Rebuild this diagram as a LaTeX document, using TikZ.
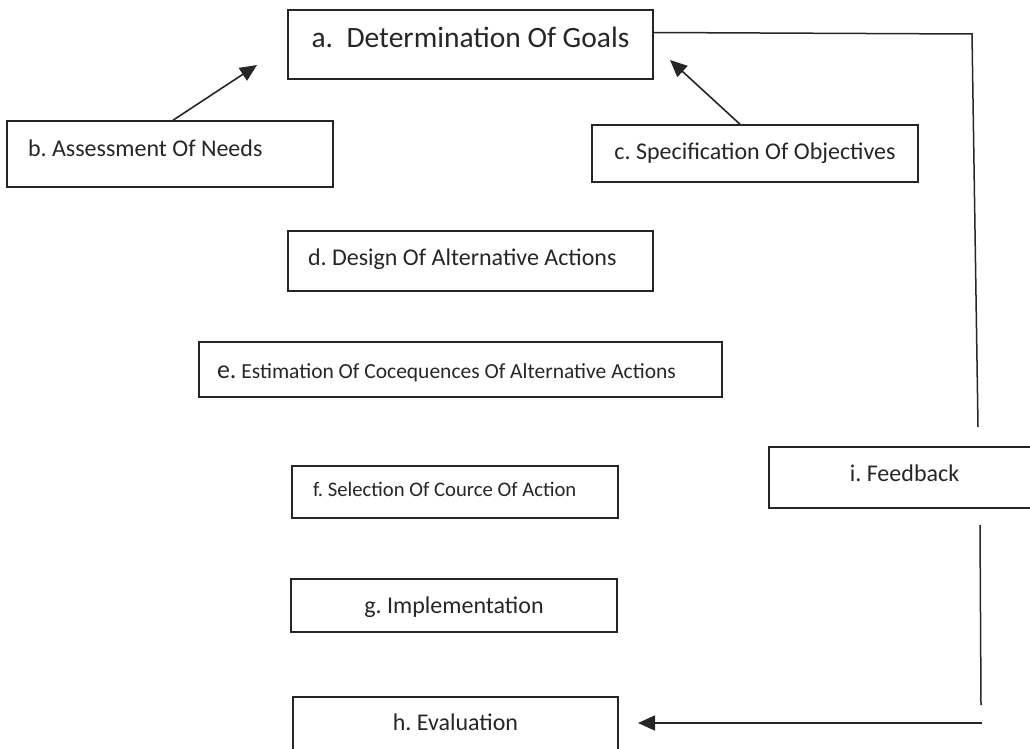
\documentclass[tikz,border=0pt]{standalone}
\usepackage{fontspec}
\setmainfont{Carlito}
\usetikzlibrary{arrows.meta,calc}
\frenchspacing

\begin{document}
\begin{tikzpicture}[x=1pt,y=-1pt,
		box/.style={draw=black!85, line width=1.5pt, inner ysep=0pt, text=black!85,
			font=\fontsize{24}{28}\selectfont},
		leftbox/.style={box, align=flush left, inner xsep=21pt},
		arr/.style={draw=black!85, line width=1.6pt, -{Triangle[length=17pt,width=15pt]}},
		fbline/.style={draw=black!85, line width=1.5pt}]
		%%%%% FRAME %%%%%
		\clip (0,0) rectangle (1030,749);
		
		%%%%% BOXES %%%%%
		\node[box, minimum width=365pt, text height=38pt, text depth=31pt,
			font=\fontsize{29.5}{34}\selectfont] (goals) at (470.5,44.5) {a.\ \ Determination Of Goals};
		\node[leftbox, text width=284pt, text height=35pt, text depth=31pt] (needs) at (170,154) {b. Assessment Of Needs};
		\node[box, minimum width=326pt, text height=34pt, text depth=23pt] (objectives) at (755,153.5) {c. Specification Of Objectives};
		\node[leftbox, text width=325pt, inner xsep=20pt, text height=34pt, text depth=26pt] (design) at (470.5,261) {d. Design Of Alternative Actions};
		\node[leftbox, text width=487pt, inner xsep=18pt, text height=36pt, text depth=19pt,
			font=\fontsize{21.5}{26}\selectfont] (estimation) at (460.5,369.5) {{\fontsize{26}{30}\selectfont e.} Estimation Of Cocequences Of Alternative Actions};
		\node[leftbox, text width=284pt, text height=30pt, text depth=22pt,
			font=\fontsize{20.7}{25}\selectfont] (selection) at (455,492) {f. Selection Of Cource Of Action};
		\node[box, minimum width=326pt, text height=34pt, text depth=19pt] (implement) at (454,605.5) {g. Implementation};
		\node[box, minimum width=325pt, text height=33pt, text depth=30pt] (evaluation) at (455.5,728.5) {h. Evaluation};
		\node[box, minimum width=271pt, text height=34pt, text depth=27pt] (feedback) at (904.5,477.5) {i. Feedback};
		
		%%%%% FREE ENDS %%%%%
		\coordinate (aimL) at (257,65);
		\coordinate (aimR) at (670,60);
		\coordinate (fbcorner) at (972,34);
		\coordinate (fbstop) at (978,427);
		\coordinate (fbrestart) at (980,525);
		\coordinate (fbend) at (981,705);
		\coordinate (fbturn) at (982,723);
		\coordinate (evaltip) at (638,723);
		
		%%%%% ARROWS %%%%%
		\draw[arr] ([xshift=3pt]needs.north) -- (aimL);
		\draw[arr] ([xshift=-15pt]objectives.north) -- (aimR);
		
		%%%%% FEEDBACK LOOP %%%%%
		\draw[fbline] ([yshift=12pt]goals.east) -- (fbcorner) -- (fbstop);
		\draw[fbline] (fbrestart) -- (fbend);
		\draw[arr] (fbturn) -- (evaltip);
	\end{tikzpicture}
\end{document}
